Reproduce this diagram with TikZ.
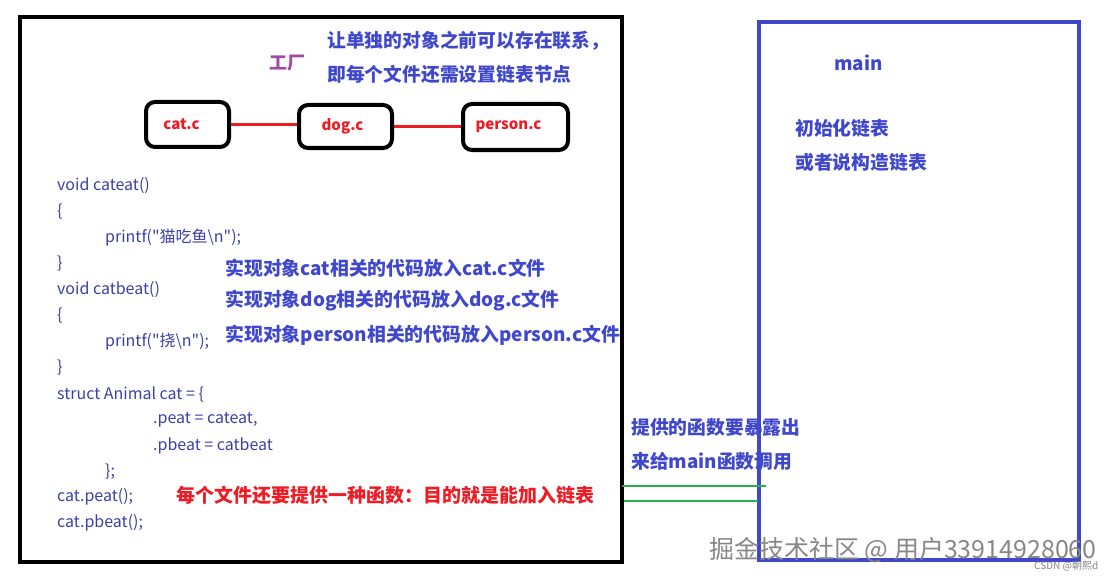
\documentclass[tikz,border=0pt]{standalone}
\usepackage{fontspec}
\setmainfont{Noto Sans CJK SC}[Ligatures=TeXOff]
\definecolor{pblue}{RGB}{63,72,204}
\definecolor{cblue}{RGB}{60,64,165}
\definecolor{pred}{RGB}{237,28,36}
\definecolor{ppurple}{RGB}{163,73,164}
\definecolor{pgreen}{RGB}{34,177,76}
\definecolor{wmgray}{RGB}{135,135,135}
\tikzset{
  frame/.style={draw=black,line width=4pt},
  mainframe/.style={draw=pblue,line width=4pt},
  filebox/.style={draw=black,line width=4pt,rounded corners=9pt,inner sep=0pt,font=\fontsize{15}{15}\selectfont\bfseries,text=pred},
  link/.style={draw=pred,line width=2.5pt},
  code/.style={anchor=west,inner sep=0pt,text=cblue,font=\fontsize{16}{16}\selectfont},
  note/.style={anchor=west,inner sep=0pt,text=pblue,font=\fontsize{18.8}{19}\selectfont\bfseries},
  impl/.style={anchor=west,inner sep=0pt,text=pblue,font=\fontsize{18.9}{19}\selectfont\bfseries},
  rednote/.style={anchor=west,inner sep=0pt,text=pred,font=\fontsize{19}{19}\selectfont\bfseries},
  greenline/.style={draw=pgreen,line width=2pt},
  wm/.style={anchor=west,inner sep=0pt,text=wmgray}
}
\begin{document}
\begin{tikzpicture}[x=1pt,y=-1pt]
\useasboundingbox (0,0) rectangle (1116,583);
% frames
\draw[frame] (20,17) rectangle (622,562);
\draw[mainframe] (759,22) rectangle (1079,560);
% top texts
\node[anchor=west,inner sep=0pt,text=ppurple,font=\fontsize{18}{18}\selectfont\bfseries] (fac) at (269,63) {工厂};
\node[note] (t1) at (327,41) {让单独的对象之前可以存在联系，};
\node[note] (t2) at (327,74) {即每个文件还需设置链表节点};
% file boxes
\node[filebox,minimum width=83pt,minimum height=45pt] (cat) at (187.5,124.5) {\raisebox{-3pt}{cat.c}\hspace*{12pt}};
\node[filebox,minimum width=93pt,minimum height=43pt] (dog) at (345.5,126.5) {\raisebox{-4pt}{dog.c}\hspace*{6pt}};
\node[filebox,minimum width=105pt,minimum height=46pt] (person) at (515.5,127) {person.c\hspace*{14pt}};
\draw[link] (cat.east) -- (dog.west |- cat.east);
\draw[link] (dog.east) -- (person.west |- dog.east);
% code
\node[code] (c1) at (57,186) {void cateat()};
\node[code] (c2) at (57,212) {\{};
\node[code] (c3) at (105,238) {printf("猫吃鱼\textbackslash n");};
\node[code] (c4) at (57,264) {\}};
\node[code] (c5) at (57,290) {void catbeat()};
\node[code] (c6) at (57,316) {\{};
\node[code] (c7) at (105,342) {printf("挠\textbackslash n");};
\node[code] (c8) at (57,368) {\}};
\node[code] (c9) at (57,394) {struct Animal cat = \{};
\node[code] (c10) at (153,420) {.peat = cateat,};
\node[code] (c11) at (153,446) {.pbeat = catbeat};
\node[code] (c12) at (105,472) {\};};
\node[code] (c13) at (57,497) {cat.peat();};
\node[code] (c14) at (57,523) {cat.pbeat();};
% notes
\node[impl] (n1) at (225,268) {实现对象cat相关的代码放入cat.c文件};
\node[impl] (n2) at (225,301) {实现对象dog相关的代码放入dog.c文件};
\node[impl] (n3) at (225,335) {实现对象person相关的代码放入person.c文件};
\node[rednote] (r1) at (176,495) {每个文件还要提供一种函数：目的就是能加入链表};
% main side
\node[note] (m) at (834,63) {main};
\node[note] (m1) at (795,128) {初始化链表};
\node[note] (m2) at (795,162) {或者说构造链表};
\node[note] (e1) at (631,427) {提供的函数要暴露出};
\node[note] (e2) at (631,461) {来给main函数调用};
% green lines
\coordinate (g1a) at (622,486);
\coordinate (g1b) at (766,486);
\coordinate (g2a) at (624,501);
\coordinate (g2b) at (758,501);
\draw[greenline] (g1a) -- (g1b);
\draw[greenline] (g2a) -- (g2b);
% watermarks
\node[wm,font=\fontsize{25}{25}\selectfont] (w1) at (709,550) {掘金技术社区 @ 用户33914928060};
\node[wm,font=\fontsize{10}{10}\selectfont] (w2) at (1034,566) {CSDN @朝熙d};
\end{tikzpicture}
\end{document}
